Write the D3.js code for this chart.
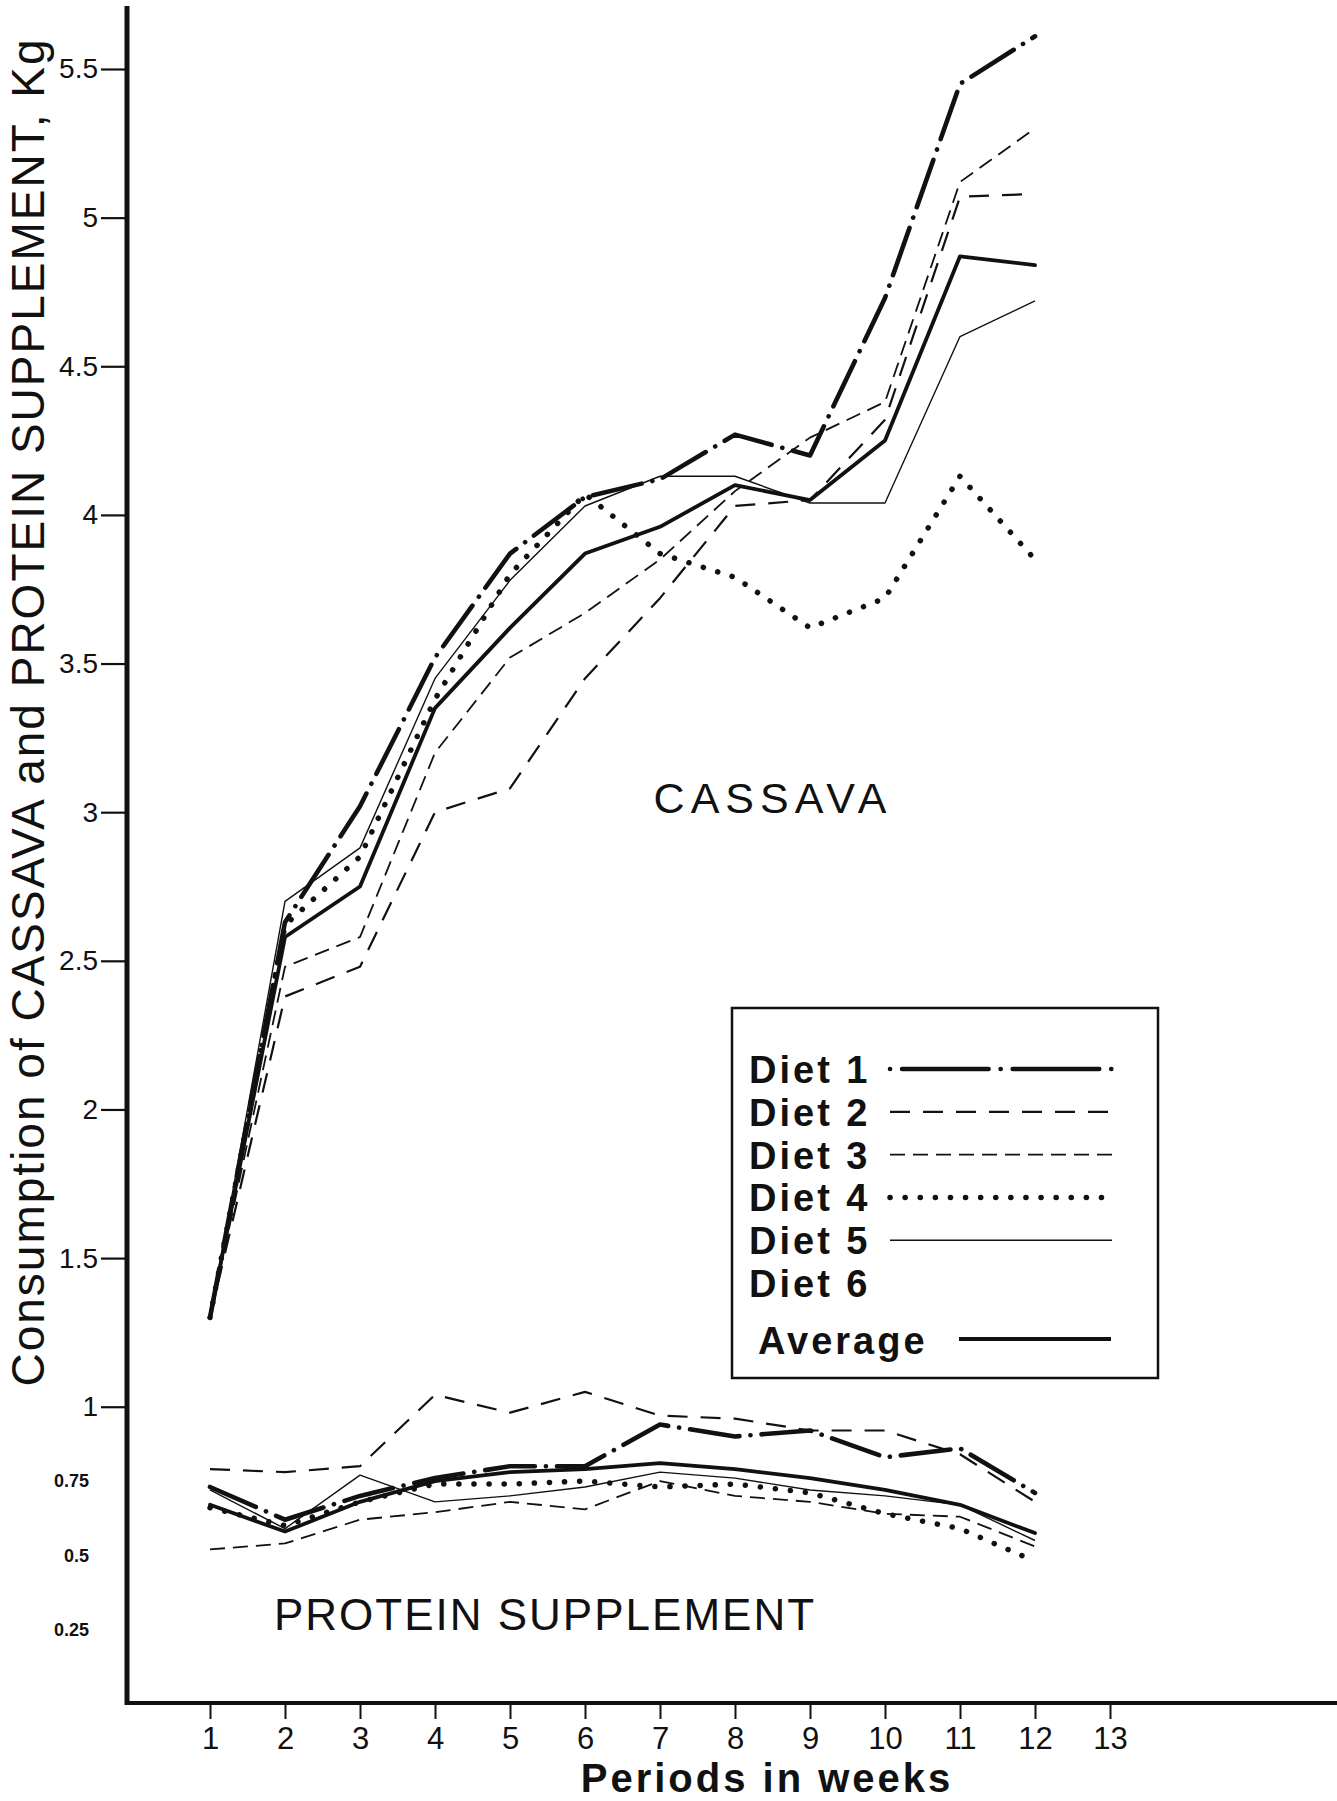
<!DOCTYPE html>
<html>
<head>
<meta charset="utf-8">
<script src="https://cdn.jsdelivr.net/npm/d3@7"></script>
<style>
  body { margin: 0; background: #fff; }
  svg { display: block; font-family: 'Liberation Sans', Arial, Helvetica, sans-serif; }
</style>
</head>
<body>
<div id="chart"></div>
<script>
const weeks = [1, 2, 3, 4, 5, 6, 7, 8, 9, 10, 11, 12]
const weekTicks = [1, 2, 3, 4, 5, 6, 7, 8, 9, 10, 11, 12, 13]

// cassava, kg per period
const cassavaDiet1 = [1.30, 2.63, 3.02, 3.52, 3.87, 4.06, 4.12, 4.27, 4.20, 4.73, 5.45, 5.61]
const cassavaDiet2 = [1.30, 2.38, 2.48, 3.00, 3.08, 3.45, 3.72, 4.03, 4.05, 4.32, 5.07, 5.08]
const cassavaDiet3 = [1.30, 2.48, 2.58, 3.20, 3.52, 3.67, 3.85, 4.08, 4.26, 4.38, 5.12, 5.30]
const cassavaDiet4 = [1.30, 2.62, 2.85, 3.38, 3.80, 4.07, 3.87, 3.79, 3.62, 3.72, 4.13, 3.85]
const cassavaDiet5 = [1.30, 2.70, 2.88, 3.45, 3.78, 4.03, 4.13, 4.13, 4.04, 4.04, 4.60, 4.72]
const cassavaAverage = [1.30, 2.58, 2.75, 3.35, 3.62, 3.87, 3.96, 4.10, 4.05, 4.25, 4.87, 4.84]

// protein supplement, kg per period
const proteinDiet1 = [0.73, 0.62, 0.70, 0.76, 0.80, 0.80, 0.94, 0.90, 0.92, 0.83, 0.86, 0.71]
const proteinDiet2 = [0.79, 0.78, 0.80, 1.04, 0.98, 1.05, 0.97, 0.96, 0.92, 0.92, 0.84, 0.68]
const proteinDiet3 = [0.52, 0.54, 0.62, 0.645, 0.68, 0.655, 0.75, 0.70, 0.68, 0.64, 0.63, 0.53]
const proteinDiet4 = [0.66, 0.60, 0.68, 0.74, 0.74, 0.75, 0.73, 0.74, 0.71, 0.64, 0.59, 0.48]
const proteinDiet5 = [0.72, 0.59, 0.77, 0.68, 0.70, 0.73, 0.78, 0.76, 0.72, 0.70, 0.67, 0.55]
const proteinAverage = [0.67, 0.58, 0.68, 0.75, 0.78, 0.79, 0.81, 0.79, 0.76, 0.72, 0.67, 0.575]

const yTicks = [5.5, 5, 4.5, 4, 3.5, 3, 2.5, 2, 1.5, 1]
const ySmallTicks = [0.75, 0.5, 0.25]
const legendNames = ['Diet 1', 'Diet 2', 'Diet 3', 'Diet 4', 'Diet 5', 'Diet 6']

const width = 1337
const height = 1801
const axisX = 127
const axisY = 1703

const styles = {
  diet1: { w: 4.6, dash: '50,11,0.1,11', cap: 'round', legendDash: '0.1,12,86.5,12' },
  diet2: { w: 2.2, dash: '20,13', cap: 'butt' },
  diet3: { w: 1.8, dash: '15,8', cap: 'butt' },
  diet4: { w: 5.5, dash: '0.1,15', cap: 'round' },
  diet5: { w: 1.4, dash: null, cap: 'butt' },
  average: { w: 3.8, dash: null, cap: 'round' }
}

const series = [
  { key: 'diet5', cassava: cassavaDiet5, protein: proteinDiet5 },
  { key: 'diet3', cassava: cassavaDiet3, protein: proteinDiet3 },
  { key: 'diet2', cassava: cassavaDiet2, protein: proteinDiet2 },
  { key: 'diet4', cassava: cassavaDiet4, protein: proteinDiet4 },
  { key: 'average', cassava: cassavaAverage, protein: proteinAverage },
  { key: 'diet1', cassava: cassavaDiet1, protein: proteinDiet1 }
]

const x = d3.scaleLinear().domain([1, 12]).range([210, 1035])
const y = d3.scaleLinear().domain([0, 5.5]).range([1704, 69])

const svg = d3.select('#chart').append('svg')
  .attr('width', width)
  .attr('height', height)

const line = d3.line()
  .x((d, i) => x(weeks[i]))
  .y(d => y(d))

const plot = svg.append('g')
  .attr('fill', 'none')
  .attr('stroke', '#111')
  .attr('stroke-linejoin', 'round')

series.forEach(s => {
  const st = styles[s.key]
  ;[s.cassava, s.protein].forEach(values => {
    plot.append('path')
      .attr('d', line(values))
      .attr('stroke-width', st.w)
      .attr('stroke-dasharray', st.dash)
      .attr('stroke-linecap', st.cap)
  })
})

// axes
const yAxis = svg.append('g')
  .attr('transform', `translate(${axisX},0)`)
  .call(d3.axisLeft(y).tickValues(yTicks).tickSize(26).tickPadding(3)
    .tickFormat(d3.format('')))
yAxis.select('.domain').remove()
yAxis.selectAll('line').attr('stroke', '#111').attr('stroke-width', 2.2)
yAxis.selectAll('text')
  .attr('font-size', 28)
  .attr('fill', '#111')

svg.append('g')
  .selectAll('text')
  .data(ySmallTicks)
  .join('text')
  .attr('x', axisX - 38)
  .attr('y', d => y(d))
  .attr('dy', '0.35em')
  .attr('text-anchor', 'end')
  .attr('font-size', 18)
  .attr('font-weight', 'bold')
  .attr('fill', '#111')
  .text(d => d)

const xAxis = svg.append('g')
  .attr('transform', `translate(0,${axisY})`)
  .call(d3.axisBottom(x).tickValues(weekTicks).tickSize(16).tickPadding(8)
    .tickFormat(d3.format('d')))
xAxis.select('.domain').remove()
xAxis.selectAll('line').attr('stroke', '#111').attr('stroke-width', 2)
xAxis.selectAll('text')
  .attr('font-size', 31)
  .attr('fill', '#111')

svg.append('line')
  .attr('x1', axisX).attr('x2', axisX)
  .attr('y1', 6).attr('y2', axisY + 2)
  .attr('stroke', '#111')
  .attr('stroke-width', 5)

svg.append('line')
  .attr('x1', axisX - 2).attr('x2', width)
  .attr('y1', axisY).attr('y2', axisY)
  .attr('stroke', '#111')
  .attr('stroke-width', 4)

// titles
svg.append('text')
  .attr('transform', `translate(44,712) rotate(-90)`)
  .attr('text-anchor', 'middle')
  .attr('font-size', 46)
  .attr('letter-spacing', 2)
  .attr('fill', '#111')
  .text('Consumption of CASSAVA and PROTEIN SUPPLEMENT, Kg')

svg.append('text')
  .attr('x', 767).attr('y', 1792)
  .attr('text-anchor', 'middle')
  .attr('font-size', 40)
  .attr('letter-spacing', 3)
  .attr('font-weight', 'bold')
  .attr('fill', '#111')
  .text('Periods in weeks')

svg.append('text')
  .attr('x', 773).attr('y', 813)
  .attr('text-anchor', 'middle')
  .attr('font-size', 43)
  .attr('letter-spacing', 6)
  .attr('fill', '#111')
  .text('CASSAVA')

svg.append('text')
  .attr('x', 545).attr('y', 1630)
  .attr('text-anchor', 'middle')
  .attr('font-size', 44)
  .attr('letter-spacing', 2)
  .attr('fill', '#111')
  .text('PROTEIN SUPPLEMENT')

// legend
const legend = svg.append('g')
legend.append('rect')
  .attr('x', 732).attr('y', 1008)
  .attr('width', 426).attr('height', 370)
  .attr('fill', '#fff')
  .attr('stroke', '#111')
  .attr('stroke-width', 2.5)

const rowY = d3.scaleLinear().domain([0, 5]).range([1083, 1297])
const sampleKeys = ['diet1', 'diet2', 'diet3', 'diet4', 'diet5', null]

legend.selectAll('text.name')
  .data(legendNames)
  .join('text')
  .attr('class', 'name')
  .attr('x', 749)
  .attr('y', (d, i) => rowY(i))
  .attr('font-size', 38)
  .attr('letter-spacing', 3)
  .attr('font-weight', 'bold')
  .attr('fill', '#111')
  .text(d => d)

sampleKeys.forEach((k, i) => {
  if (!k) return
  const st = styles[k]
  legend.append('line')
    .attr('x1', 890).attr('x2', 1112)
    .attr('y1', rowY(i) - 14).attr('y2', rowY(i) - 14)
    .attr('stroke', '#111')
    .attr('stroke-width', st.w)
    .attr('stroke-dasharray', st.legendDash || st.dash)
    .attr('stroke-linecap', st.cap)
})

legend.append('text')
  .attr('x', 758).attr('y', 1354)
  .attr('font-size', 38)
  .attr('letter-spacing', 3)
  .attr('font-weight', 'bold')
  .attr('fill', '#111')
  .text('Average')

legend.append('line')
  .attr('x1', 959).attr('x2', 1111)
  .attr('y1', 1339).attr('y2', 1339)
  .attr('stroke', '#111')
  .attr('stroke-width', styles.average.w)
</script>
</body>
</html>
